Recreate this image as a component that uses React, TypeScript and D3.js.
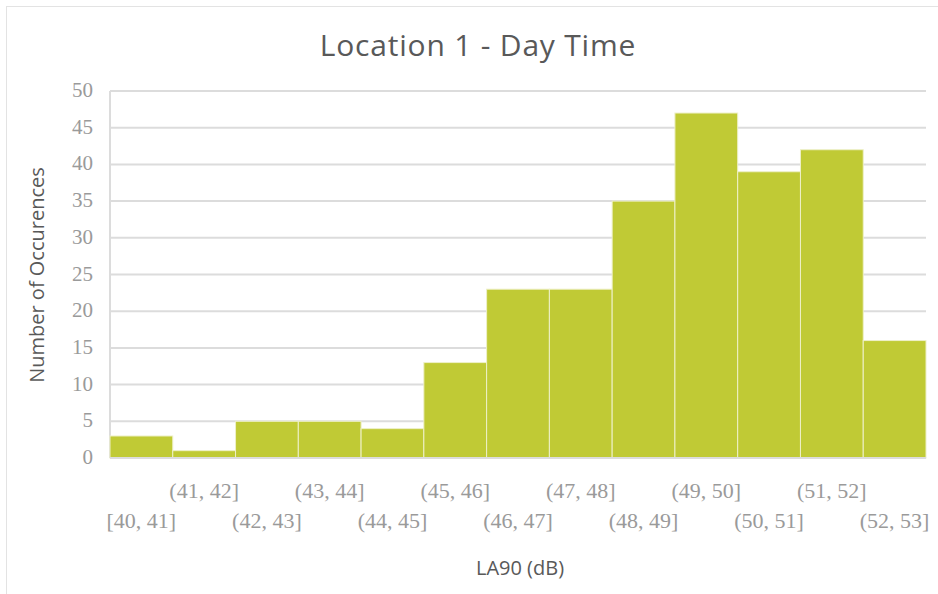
import React from "react";
import * as d3 from "d3";

const bins = [
  "[40, 41]", "(41, 42]", "(42, 43]", "(43, 44]", "(44, 45]", "(45, 46]", "(46, 47]",
  "(47, 48]", "(48, 49]", "(49, 50]", "(50, 51]", "(51, 52]", "(52, 53]",
];
const counts = [3, 1, 5, 5, 4, 13, 23, 23, 35, 47, 39, 42, 16];
const yTicks = [0, 5, 10, 15, 20, 25, 30, 35, 40, 45, 50];

const W = 938;
const H = 594;
const left = 110;
const right = 926;
const top = 91;
const bottom = 458;

const BAR = "#c0ca35";
const GRID = "#dcdcdc";
const TICK_TEXT = "#9a9a9a";
const AXIS_TEXT = "#595959";

export default function App() {
  const x = d3.scaleBand<string>().domain(bins).range([left, right]).padding(0);
  const y = d3.scaleLinear().domain([0, 50]).range([bottom, top]);

  return (
    <svg
      width={W}
      height={H}
      style={{ position: "absolute", left: 0, top: 0, background: "#fff" }}
    >
      <line x1={6.5} y1={6} x2={6.5} y2={H} stroke="#e3e3e3" />
      <line x1={6} y1={6.5} x2={W} y2={6.5} stroke="#e3e3e3" />

      <text
        x={478}
        y={56}
        textAnchor="middle"
        fontFamily="'Open Sans', sans-serif"
        fontSize={30}
        letterSpacing={0.8}
        fill={AXIS_TEXT}
      >
        Location 1 - Day Time
      </text>

      {yTicks.map((t) => (
        <g key={t}>
          {t > 0 && (
            <line x1={left} x2={right} y1={y(t)} y2={y(t)} stroke={GRID} strokeWidth={2} />
          )}
          <text
            x={93}
            y={y(t) + 6}
            textAnchor="end"
            fontFamily="'Liberation Serif', serif"
            fontSize={21}
            fill={TICK_TEXT}
            style={{ fontVariantNumeric: "oldstyle-nums" }}
          >
            {t}
          </text>
        </g>
      ))}
      <line x1={left} x2={left} y1={top} y2={bottom} stroke={GRID} strokeWidth={2} />

      {bins.map((b, i) => (
        <rect
          key={b}
          x={x(b)!}
          y={y(counts[i])}
          width={x.bandwidth()}
          height={bottom - y(counts[i])}
          fill={BAR}
          stroke="#eef0c8"
          strokeWidth={1}
        />
      ))}
      <line x1={left} x2={right} y1={bottom} y2={bottom} stroke={GRID} strokeWidth={2} />

      {bins.map((b, i) => (
        <text
          key={b}
          x={x(b)! + x.bandwidth() / 2}
          y={i % 2 === 1 ? 498 : 528}
          textAnchor="middle"
          fontFamily="'Liberation Serif', serif"
          fontSize={22}
          fill={TICK_TEXT}
          style={{ fontVariantNumeric: "oldstyle-nums" }}
        >
          {b}
        </text>
      ))}

      <text
        x={520}
        y={575}
        textAnchor="middle"
        fontFamily="'Open Sans', sans-serif"
        fontSize={20}
        fill={AXIS_TEXT}
      >
        LA90 (dB)
      </text>
      <text
        transform={`translate(44, 275) rotate(-90)`}
        textAnchor="middle"
        fontFamily="'Open Sans', sans-serif"
        fontSize={20}
        fill={AXIS_TEXT}
      >
        Number of Occurences
      </text>
    </svg>
  );
}
